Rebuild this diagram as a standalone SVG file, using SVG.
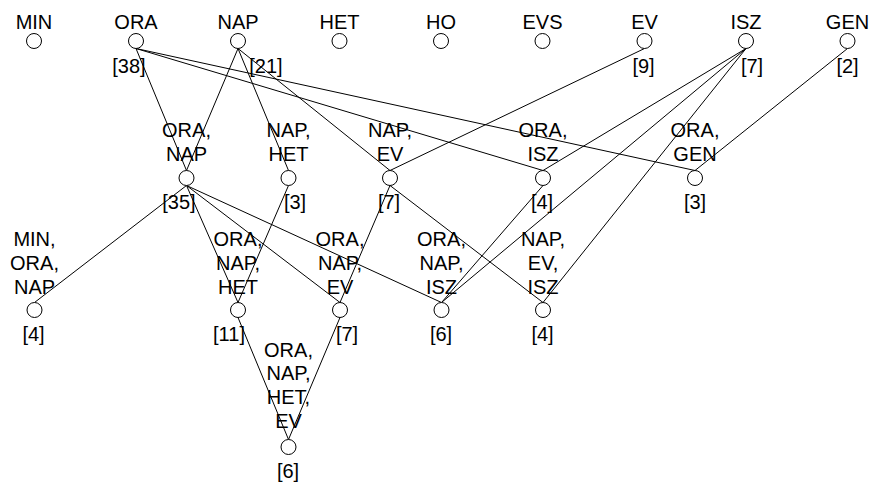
<svg xmlns="http://www.w3.org/2000/svg" width="870" height="482" viewBox="0 0 870 482">
<style>
text{font-family:"Liberation Sans",Arial,Helvetica,sans-serif;font-size:20px;fill:#000;text-anchor:middle}
circle{fill:#fff;stroke:#000;stroke-width:1}
#edges line{stroke:#000;stroke-width:1}
</style>
<rect width="870" height="482" fill="#fff"/>
<g id="edges">
<line x1="136" y1="48.5" x2="186.5" y2="170.5"/>
<line x1="136" y1="48.5" x2="543" y2="170.5"/>
<line x1="136" y1="48.5" x2="695" y2="170.5"/>
<line x1="238" y1="48.5" x2="186.5" y2="170.5"/>
<line x1="238" y1="48.5" x2="288.5" y2="170.5"/>
<line x1="238" y1="48.5" x2="390" y2="170.5"/>
<line x1="644.5" y1="48.5" x2="390" y2="170.5"/>
<line x1="746" y1="48.5" x2="543" y2="170.5"/>
<line x1="746" y1="48.5" x2="441.5" y2="302.5"/>
<line x1="746" y1="48.5" x2="543" y2="302.5"/>
<line x1="847.5" y1="48.5" x2="695" y2="170.5"/>
<line x1="186.5" y1="185.5" x2="34.5" y2="302.5"/>
<line x1="186.5" y1="185.5" x2="238" y2="302.5"/>
<line x1="186.5" y1="185.5" x2="340" y2="302.5"/>
<line x1="186.5" y1="185.5" x2="441.5" y2="302.5"/>
<line x1="288.5" y1="185.5" x2="238" y2="302.5"/>
<line x1="390" y1="185.5" x2="340" y2="302.5"/>
<line x1="390" y1="185.5" x2="543" y2="302.5"/>
<line x1="543" y1="185.5" x2="441.5" y2="302.5"/>
<line x1="238" y1="317.5" x2="288.5" y2="439.5"/>
<line x1="340" y1="317.5" x2="288.5" y2="439.5"/>
</g>
<g id="n-MIN"><circle cx="34" cy="41" r="7.5"/><text x="34" y="29">MIN</text></g>
<g id="n-ORA"><circle cx="136" cy="41" r="7.5"/><text x="136" y="29">ORA</text><text x="129" y="73">[38]</text></g>
<g id="n-NAP"><circle cx="238" cy="41" r="7.5"/><text x="238" y="29">NAP</text><text x="266" y="73">[21]</text></g>
<g id="n-HET"><circle cx="339.5" cy="41" r="7.5"/><text x="339.5" y="29">HET</text></g>
<g id="n-HO"><circle cx="441" cy="41" r="7.5"/><text x="441" y="29">HO</text></g>
<g id="n-EVS"><circle cx="542.5" cy="41" r="7.5"/><text x="542.5" y="29">EVS</text></g>
<g id="n-EV"><circle cx="644.5" cy="41" r="7.5"/><text x="644.5" y="29">EV</text><text x="643.5" y="73">[9]</text></g>
<g id="n-ISZ"><circle cx="746" cy="41" r="7.5"/><text x="746" y="29">ISZ</text><text x="752" y="73">[7]</text></g>
<g id="n-GEN"><circle cx="847.5" cy="41" r="7.5"/><text x="847.5" y="29">GEN</text><text x="847.5" y="73">[2]</text></g>
<g id="n-ORA-NAP"><circle cx="186.5" cy="178" r="7.5"/><text x="186.5" y="137">ORA,</text><text x="186.5" y="161">NAP</text><text x="179" y="209">[35]</text></g>
<g id="n-NAP-HET"><circle cx="288.5" cy="178" r="7.5"/><text x="288.5" y="137">NAP,</text><text x="288.5" y="161">HET</text><text x="295" y="209">[3]</text></g>
<g id="n-NAP-EV"><circle cx="390" cy="178" r="7.5"/><text x="390" y="137">NAP,</text><text x="390" y="161">EV</text><text x="389" y="209">[7]</text></g>
<g id="n-ORA-ISZ"><circle cx="543" cy="178" r="7.5"/><text x="543" y="137">ORA,</text><text x="543" y="161">ISZ</text><text x="542" y="209">[4]</text></g>
<g id="n-ORA-GEN"><circle cx="695" cy="178" r="7.5"/><text x="695" y="137">ORA,</text><text x="695" y="161">GEN</text><text x="695" y="209">[3]</text></g>
<g id="n-MIN-ORA-NAP"><circle cx="34.5" cy="310" r="7.5"/><text x="34.5" y="246">MIN,</text><text x="34.5" y="270">ORA,</text><text x="34.5" y="294">NAP</text><text x="33.5" y="341">[4]</text></g>
<g id="n-ORA-NAP-HET"><circle cx="238" cy="310" r="7.5"/><text x="238" y="246">ORA,</text><text x="238" y="270">NAP,</text><text x="238" y="294">HET</text><text x="229" y="341">[11]</text></g>
<g id="n-ORA-NAP-EV"><circle cx="340" cy="310" r="7.5"/><text x="340" y="246">ORA,</text><text x="340" y="270">NAP,</text><text x="340" y="294">EV</text><text x="347" y="341">[7]</text></g>
<g id="n-ORA-NAP-ISZ"><circle cx="441.5" cy="310" r="7.5"/><text x="441.5" y="246">ORA,</text><text x="441.5" y="270">NAP,</text><text x="441.5" y="294">ISZ</text><text x="441" y="341">[6]</text></g>
<g id="n-NAP-EV-ISZ"><circle cx="543" cy="310" r="7.5"/><text x="543" y="246">NAP,</text><text x="543" y="270">EV,</text><text x="543" y="294">ISZ</text><text x="542.5" y="341">[4]</text></g>
<g id="n-ORA-NAP-HET-EV"><circle cx="288.5" cy="447" r="7.5"/><text x="288.5" y="357">ORA,</text><text x="288.5" y="380">NAP,</text><text x="288.5" y="404">HET,</text><text x="288.5" y="428">EV</text><text x="288" y="478">[6]</text></g>
</svg>
